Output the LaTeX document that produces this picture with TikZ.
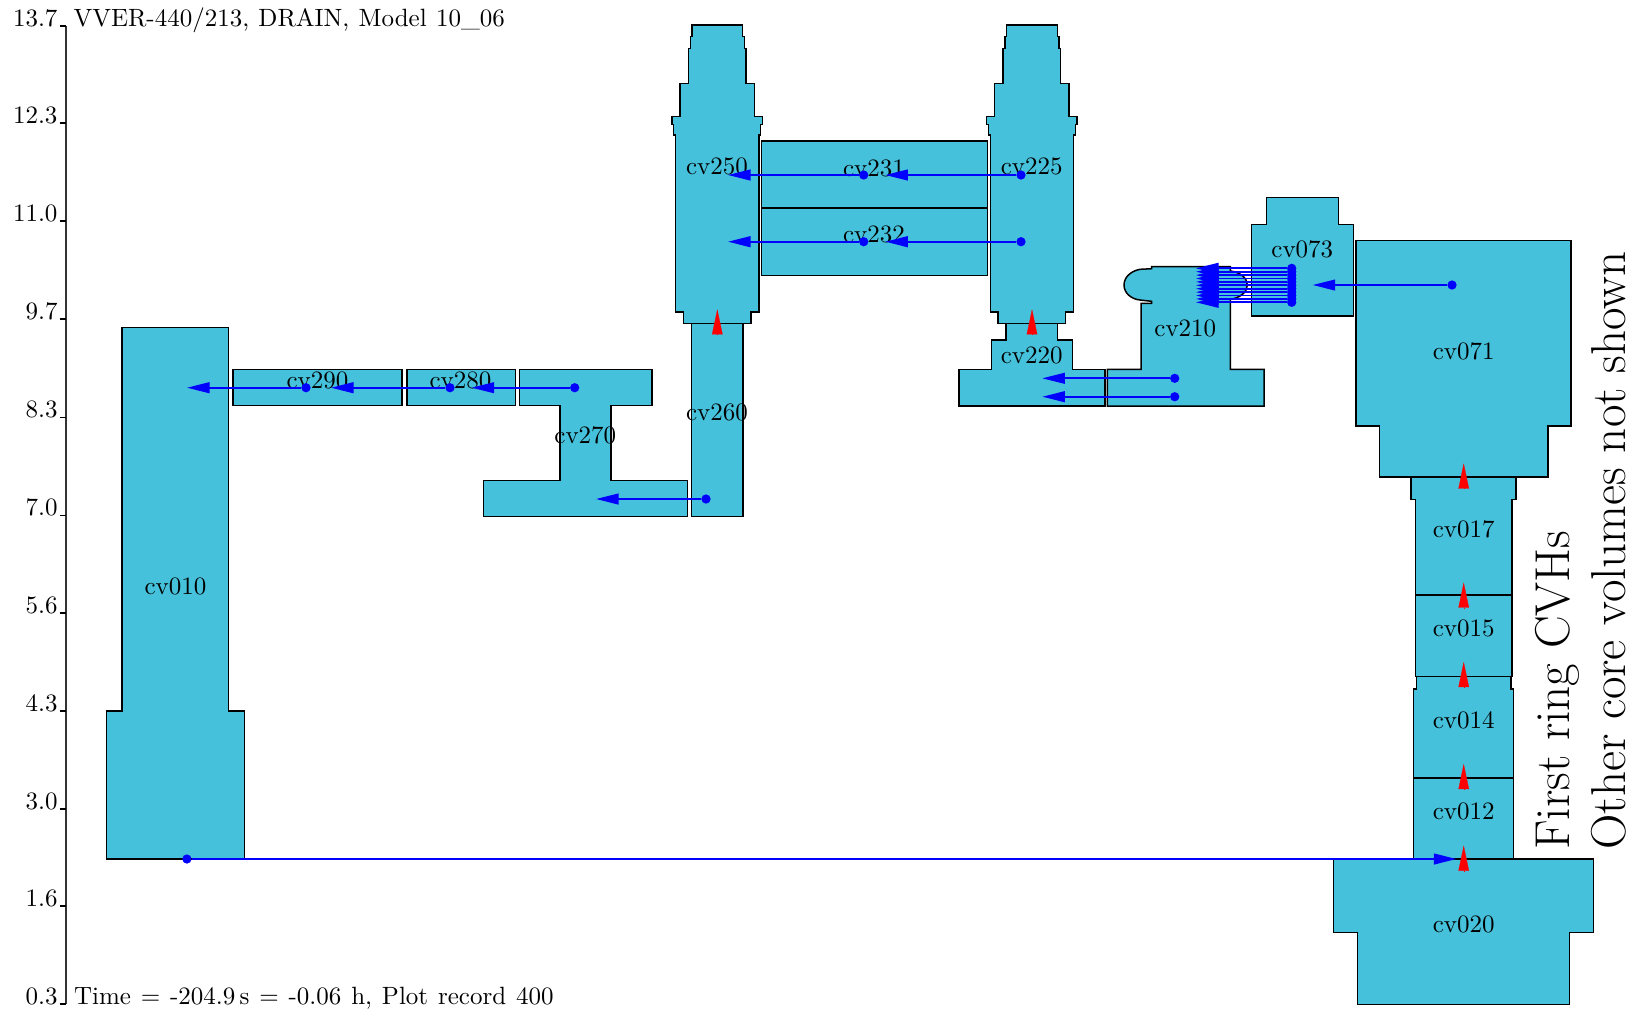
\documentclass[tikz,border=0pt]{standalone}
\usetikzlibrary{arrows.meta}
\definecolor{cvblue}{RGB}{70,193,219}
\begin{document}
\begin{tikzpicture}[
    x=0.4pt,y=-0.4pt,
    cvol/.style={
      draw=black,
      fill=cvblue,
      line width=0.6pt,
      line join=miter
    },
    cvlabel/.style={inner sep=0pt},
    ticklabel/.style={anchor=base east,inner sep=0pt},
    sidelabel/.style={anchor=base west,rotate=90,inner sep=0pt,font=\fontsize{19.6}{24}\selectfont},
    flow/.style={
      blue,
      line width=0.7pt,
      -{Triangle[length=9pt,width=4.3pt]}
    },
    upflow/.style={
      red,
      line width=0.1pt,
      -{Triangle[length=10pt,width=4.2pt]}
    },
    flowdot/.style={circle,fill=blue,inner sep=0pt,minimum size=3.7pt}
  ]
    \useasboundingbox (0,0) rectangle (1637,1009);

    \draw[line width=0.6pt,black!80] (65.8,26) -- (65.8,1004);
    \foreach \ypos/\val in {26/13.7,123/12.3,221/11.0,319/9.7,417.6/8.3,515.7/7.0,613/5.6,711/4.3,809/3.0,906/1.6,1004/0.3} {
      \draw[line width=0.5pt] (59.5,\ypos) -- (65.8,\ypos);
      \node[ticklabel] at (58,\ypos) {\val};
    }
    \node[anchor=base west,inner sep=0pt] (title) at (73,26) {\spaceskip=3.7pt VVER-440/213, DRAIN, Model 10\_06};
    \node[anchor=base west,inner sep=0pt] (timeinfo) at (73.5,1004) {\spaceskip=3.95pt Time = -204.9\,s = -0.06 h, Plot record 400};
    \node[sidelabel] (ring) at (1569,850) {First ring CVHs};
    \node[sidelabel] (other) at (1625,850) {Other core volumes not shown};

    \draw[cvol] (122,327.5) -- (228.6,327.5) -- (228.6,711) -- (244.5,711) -- (244.5,859)
      -- (106.7,859) -- (106.7,711) -- (122,711) -- cycle;
    \draw[cvol] (232.8,369.3) rectangle (402,405.7);
    \draw[cvol] (407,369.3) rectangle (515.7,405.7);
    \draw[cvol] (519.3,369.3) -- (652,369.3) -- (652,405.7) -- (611,405.7) -- (611,480.7) -- (687.7,480.7)
      -- (687.7,516.7) -- (483.3,516.7) -- (483.3,480.7) -- (560,480.7) -- (560,405.7) -- (519.3,405.7) -- cycle;
    \draw[cvol] (691.7,323.3) rectangle (743,516.7);
    \foreach \dx in {0,314.7} {
      \draw[cvol,shift={(\dx,0)}] (692,25) -- (692,36.7) -- (690.3,36.7) -- (690.3,48.7) -- (688.3,48.7)
        -- (688.3,83.7) -- (680,83.7) -- (680,116.7) -- (672,116.7) -- (672,124.3) -- (673.7,124.3)
        -- (673.7,135) -- (675.7,135) -- (675.7,312) -- (683.3,312) -- (683.3,323.3) -- (751,323.3)
        -- (751,312) -- (759,312) -- (759,135) -- (760.7,135) -- (760.7,124.3) -- (762.3,124.3)
        -- (762.3,116.7) -- (754.3,116.7) -- (754.3,83.7) -- (746,83.7) -- (746,48.7) -- (744.3,48.7)
        -- (744.3,36.7) -- (742.7,36.7) -- (742.7,25) -- cycle;
    }
    \draw[cvol] (761.7,141) rectangle (987.3,208);
    \draw[cvol] (761.7,208) rectangle (987.3,275.3);
    \draw[cvol] (1006,323.3) -- (1057.7,323.3) -- (1057.7,340) -- (1072.3,340) -- (1072.3,369.3) -- (1105,369.3)
      -- (1105,406) -- (959,406) -- (959,369.3) -- (991.3,369.3) -- (991.3,340) -- (1006,340) -- cycle;
    \draw[cvol] (1141,303.3) -- (1151.7,303.3) -- (1151.7,301.3) -- (1140,300)
      .. controls (1131,299) and (1124,293) .. (1124,285)
      .. controls (1124,277) and (1131,271) .. (1140,269.3)
      -- (1151.7,268.7) -- (1151.7,266.7) -- (1230.3,266.7) -- (1230.3,271)
      .. controls (1240,272) and (1247.3,278) .. (1247.3,285)
      .. controls (1247.3,292) and (1240,298) .. (1230.3,299.3)
      -- (1230.3,369.3) -- (1264,369.3) -- (1264,406) -- (1107.3,406)
      -- (1107.3,369.3) -- (1141,369.3) -- cycle;
    \draw[cvol] (1266.7,197.7) -- (1338.3,197.7) -- (1338.3,224.3) -- (1353.3,224.3) -- (1353.3,316)
      -- (1251.7,316) -- (1251.7,224.3) -- (1266.7,224.3) -- cycle;
    \draw[cvol] (1356,240.7) -- (1571,240.7) -- (1571,426) -- (1548,426) -- (1548,477) -- (1379.3,477)
      -- (1379.3,426) -- (1356,426) -- cycle;
    \draw[cvol] (1411,477) -- (1516,477) -- (1516,499.5) -- (1512,499.5) -- (1512,595) -- (1415.3,595)
      -- (1415.3,499.5) -- (1411,499.5) -- cycle;
    \draw[cvol] (1415.3,595) rectangle (1512,676.5);
    \draw[cvol] (1416.3,676.5) -- (1511,676.5) -- (1511,689) -- (1513.7,689) -- (1513.7,777.8) -- (1413.3,777.8)
      -- (1413.3,689) -- (1416.3,689) -- cycle;
    \draw[cvol] (1413.3,777.8) rectangle (1513.7,859);
    \draw[cvol] (1333.7,859) -- (1593.7,859) -- (1593.7,932.5) -- (1569.7,932.5) -- (1569.7,1004.4)
      -- (1357.7,1004.4) -- (1357.7,932.5) -- (1333.7,932.5) -- cycle;

    \node[cvlabel] (cv010) at (175.4,586.7) {cv010};
    \node[cvlabel] (cv290) at (317.4,380) {cv290};
    \node[cvlabel] (cv280) at (460.4,380) {cv280};
    \node[cvlabel] (cv270) at (585.3,435.3) {cv270};
    \node[cvlabel] (cv260) at (717,412.7) {cv260};
    \node[cvlabel] (cv250) at (717,166) {cv250};
    \node[cvlabel] (cv231) at (874,168) {cv231};
    \node[cvlabel] (cv232) at (874,234) {cv232};
    \node[cvlabel] (cv225) at (1031.7,166) {cv225};
    \node[cvlabel] (cv220) at (1031.7,355.7) {cv220};
    \node[cvlabel] (cv210) at (1185.3,328.3) {cv210};
    \node[cvlabel] (cv073) at (1302.3,249) {cv073};
    \node[cvlabel] (cv071) at (1463.7,351.5) {cv071};
    \node[cvlabel] (cv017) at (1463.7,529) {cv017};
    \node[cvlabel] (cv015) at (1463.7,628.5) {cv015};
    \node[cvlabel] (cv014) at (1463.7,720) {cv014};
    \node[cvlabel] (cv012) at (1463.7,811) {cv012};
    \node[cvlabel] (cv020) at (1463.7,924) {cv020};

    \foreach \i/\xdot/\ydot/\xtip in {
      a/574.7/387.7/471.7,b/450/387.7/331,c/306/387.7/187,d/706/499/596,
      e/863.7/175/728,f/1021/175/885.3,g/863.7/241.7/728,h/1021/241.7/885.3,
      k/1174.7/378.3/1042.3,m/1174.7/396.7/1042.3,n/1452/285/1312.7,p/186.9/859/1456.4} {
      \node[flowdot] (dot\i) at (\xdot,\ydot) {};
      \coordinate (tip\i) at (\xtip,\ydot);
      \draw[flow] (dot\i) -- (tip\i);
    }
    \foreach \i in {0,...,10} {
      \pgfmathsetmacro\ybundle{268.3+3.4*\i}
      \node[flowdot] (dotb\i) at (1291.7,\ybundle) {};
      \coordinate (tipb\i) at (1196,\ybundle);
      \draw[flow] (dotb\i) -- (tipb\i);
    }

    \foreach \i/\xred/\ybase/\ytip in {
      1/717.3/335/309.3,2/1032/335/309.3,3/1463.7/488.6/463.5,4/1463.7/607.6/582.6,
      5/1463.7/687/662,6/1463.7/790/764,7/1463.7/871/845.6} {
      \coordinate (redb\i) at (\xred,\ybase);
      \coordinate (redt\i) at (\xred,\ytip);
      \draw[upflow] (redb\i) -- (redt\i);
    }
  \end{tikzpicture}
\end{document}
